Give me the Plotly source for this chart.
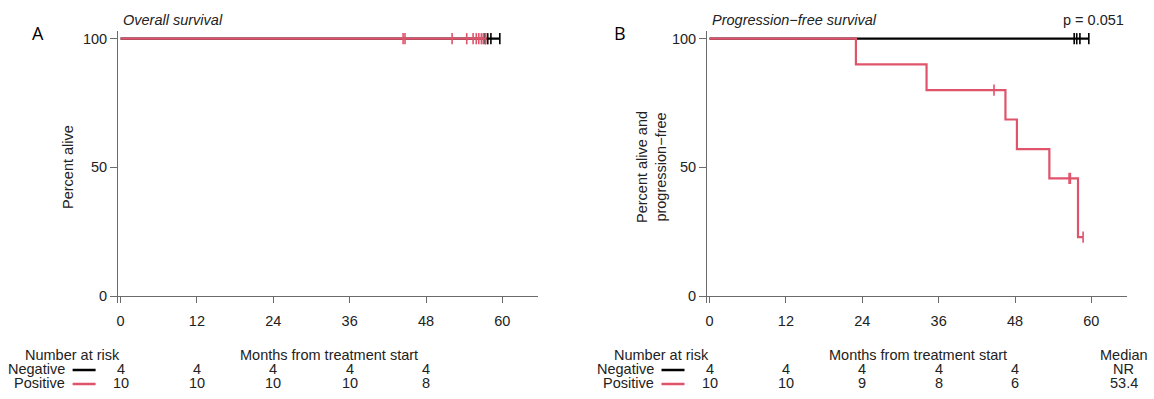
import plotly.graph_objects as go

# ---------------- data ----------------
month_ticks = [0, 12, 24, 36, 48, 60]
y_ticks = [0, 50, 100]

# Panel A - overall survival (no events, only censoring)
os_neg_time = [0, 59.6]
os_neg_surv = [100, 100]
os_neg_cens_time = [57.3, 57.7, 58.2, 59.6]
os_neg_cens_surv = [100, 100, 100, 100]

os_pos_time = [0, 57.4]
os_pos_surv = [100, 100]
os_pos_cens_time = [44.4, 44.7, 52.1, 54.4, 55.4, 55.9, 56.3, 56.7, 57.0, 57.4]
os_pos_cens_surv = [100, 100, 100, 100, 100, 100, 100, 100, 100, 100]

# Panel B - progression-free survival
pfs_neg_time = [0, 59.6]
pfs_neg_surv = [100, 100]
pfs_neg_cens_time = [57.3, 57.7, 58.2, 59.6]
pfs_neg_cens_surv = [100, 100, 100, 100]

pfs_pos_time = [0, 23.0, 34.1, 46.5, 48.3, 53.4, 57.9, 58.7]
pfs_pos_surv = [100, 90, 80, 68.6, 57.1, 45.7, 22.9, 22.9]
pfs_pos_cens_time = [44.7, 56.5, 56.7, 58.7]
pfs_pos_cens_surv = [80, 45.7, 45.7, 22.9]

risk_times = [0, 12, 24, 36, 48]
os_risk_neg = [4, 4, 4, 4, 4]
os_risk_pos = [10, 10, 10, 10, 8]
pfs_risk_neg = [4, 4, 4, 4, 4]
pfs_risk_pos = [10, 10, 9, 8, 6]
median_neg = "NR"
median_pos = "53.4"
p_value = "p = 0.051"

# ---------------- style ----------------
W, H = 1154, 399
RED = "#DF536B"
BLACK = "#000000"
AX = "#6b6b6b"
TXT = "#222222"
FONT = "Liberation Sans, Arial, Helvetica, sans-serif"
FS = 14.5


def px(x):
    return x / W


def py(y):
    return 1 - y / H


fig = go.Figure()


def add_panel(xa, ya, groups):
    for t, s, ct, cs, col in groups:
        fig.add_trace(go.Scatter(x=t, y=s, mode="lines", line=dict(color=col, width=2.2, shape="hv"),
                                 xaxis=xa, yaxis=ya, showlegend=False, hoverinfo="skip"))
        fig.add_trace(go.Scatter(x=ct, y=cs, mode="markers",
                                 marker=dict(symbol="line-ns", size=8, line=dict(color=col, width=1.6)),
                                 xaxis=xa, yaxis=ya, showlegend=False, hoverinfo="skip"))


add_panel("x", "y", [
    (os_neg_time, os_neg_surv, os_neg_cens_time, os_neg_cens_surv, BLACK),
    (os_pos_time, os_pos_surv, os_pos_cens_time, os_pos_cens_surv, RED),
])
add_panel("x2", "y2", [
    (pfs_neg_time, pfs_neg_surv, pfs_neg_cens_time, pfs_neg_cens_surv, BLACK),
    (pfs_pos_time, pfs_pos_surv, pfs_pos_cens_time, pfs_pos_cens_surv, RED),
])

xr = [-0.4, 65.6]
yr = [-2.7, 103]
ydom = [py(303), py(31)]
xpos = py(296)

xcommon = dict(range=xr, tickvals=month_ticks, showline=True, linecolor=AX, linewidth=1,
               ticks="outside", ticklen=6, tickcolor=AX, showgrid=False, zeroline=False,
               tickfont=dict(family=FONT, size=FS, color=TXT), anchor="free", position=xpos,
               ticklabelstandoff=6, fixedrange=True)
ycommon = dict(range=yr, tickvals=y_ticks, showline=True, linecolor=AX, linewidth=1,
               ticks="outside", ticklen=7, tickcolor=AX, showgrid=False, zeroline=False,
               tickfont=dict(family=FONT, size=FS, color=TXT), domain=ydom, fixedrange=True)

fig.update_layout(
    width=W, height=H, margin=dict(l=0, r=0, t=0, b=0),
    paper_bgcolor="white", plot_bgcolor="white",
    xaxis=dict(domain=[px(118), px(538)], **xcommon),
    xaxis2=dict(domain=[px(707), px(1127)], **xcommon),
    yaxis=dict(anchor="x", **ycommon),
    yaxis2=dict(anchor="x2", **ycommon),
)

ann = []


def text(x, y, s, xref="paper", xanchor="center", size=FS, italic=False, angle=0, color=TXT, family=FONT):
    ann.append(dict(x=x, y=y, xref=xref, yref="paper", text=s, showarrow=False,
                    xanchor=xanchor, yanchor="middle", textangle=angle,
                    font=dict(family=family, size=size, color=color,
                              style="italic" if italic else "normal")))


# panel letters
text(px(38), py(33), "A", size=18, color="#000", family="Open Sans, Liberation Sans, sans-serif")
text(px(620), py(33), "B", size=18, color="#000", family="Open Sans, Liberation Sans, sans-serif")

# titles
text(px(121), py(20), "Overall survival", xanchor="left", italic=True)
text(px(710), py(20), "Progression\u2212free survival", xanchor="left", italic=True)
text(px(1126), py(20), p_value, xanchor="right")

# y titles
text(px(68), py(167), "Percent alive", angle=-90)
text(px(651), py(167), "Percent alive and<br>progression\u2212free", angle=-90)

# risk tables
for xa, x0, rneg, rpos in [("x", 120.6, os_risk_neg, os_risk_pos), ("x2", 709.5, pfs_risk_neg, pfs_risk_pos)]:
    text(px(x0 - 48), py(355), "Number at risk")
    text(32.8, py(355), "Months from treatment start", xref=xa)
    text(px(x0 - 54), py(369), "Negative", xanchor="right")
    text(px(x0 - 54), py(383), "Positive", xanchor="right")
    for t, a, b in zip(risk_times, rneg, rpos):
        text(t, py(369), str(a), xref=xa)
        text(t, py(383), str(b), xref=xa)

text(65.1, py(355), "Median", xref="x2")
text(65.1, py(369), median_neg, xref="x2")
text(65.1, py(383), median_pos, xref="x2")

fig.update_layout(annotations=ann)

shapes = []
for x0 in [120.6, 709.5]:
    shapes.append(dict(type="line", xref="paper", yref="paper", x0=px(x0 - 48), x1=px(x0 - 25),
                       y0=py(370), y1=py(370), line=dict(color=BLACK, width=2.5)))
    shapes.append(dict(type="line", xref="paper", yref="paper", x0=px(x0 - 48), x1=px(x0 - 25),
                       y0=py(384), y1=py(384), line=dict(color=RED, width=2.5)))
fig.update_layout(shapes=shapes)

fig.write_html("out.html")
